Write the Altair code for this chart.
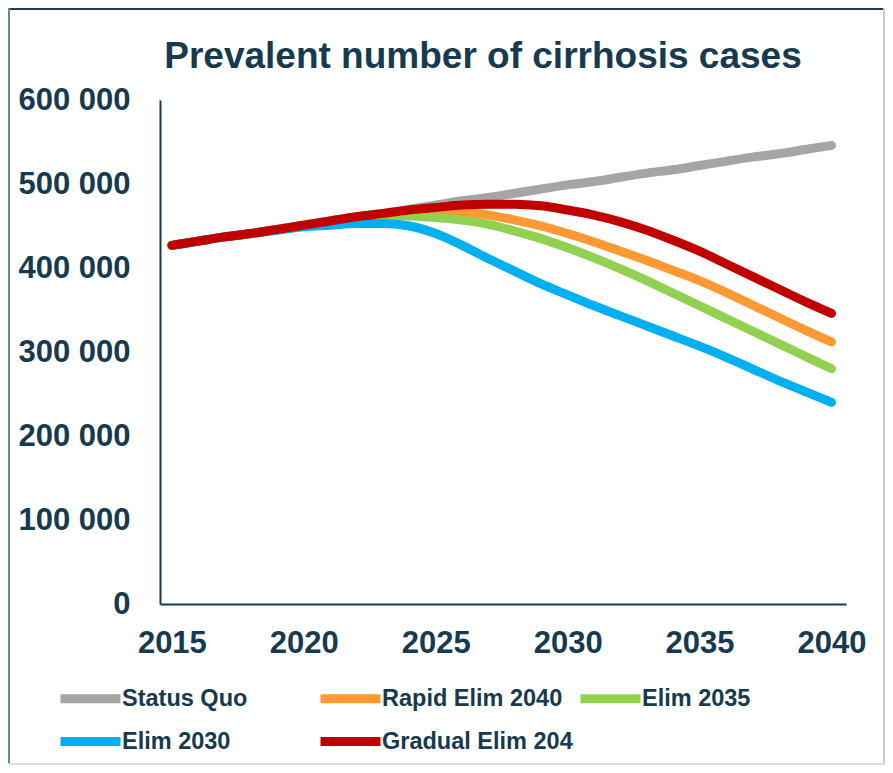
import altair as alt
import pandas as pd

title_text = "Prevalent number of cirrhosis cases"

years = list(range(2015, 2041))

series_names = ["Status Quo", "Rapid Elim 2040", "Elim 2035", "Elim 2030", "Gradual Elim 204"]
series_colors = ["#A5A5A5", "#FF9933", "#92D050", "#00B0F0", "#C00000"]
# legend fills column-major: this order gives rows [SQ, Rapid, E2035] / [E2030, Gradual]
legend_order = ["Status Quo", "Elim 2030", "Rapid Elim 2040", "Gradual Elim 204", "Elim 2035"]

status_quo = [427, 432, 437, 441, 446, 451, 456, 461, 465, 470, 475, 480, 484, 489, 494,
              499, 503, 508, 513, 517, 522, 527, 532, 536, 541, 546]
rapid_2040 = [427, 432, 437, 441, 446, 451, 456, 460, 464, 466, 467, 466, 463, 457, 450,
              441, 431, 420, 409, 397, 385, 371, 356, 341, 326, 312]
elim_2035 = [427, 432, 437, 441, 446, 451, 456, 460, 462, 462, 460, 457, 452, 444, 435,
             424, 412, 399, 385, 370, 355, 340, 325, 310, 295, 280]
elim_2030 = [427, 432, 437, 441, 445, 449, 451, 453, 453, 450, 441, 427, 411, 396, 381,
             368, 355, 343, 331, 319, 307, 294, 280, 266, 253, 240]
gradual_2040 = [427, 432, 437, 441, 446, 451, 456, 461, 465, 469, 472, 475, 476, 476, 474,
                469, 463, 455, 445, 433, 420, 405, 390, 375, 360, 346]

values = [status_quo, rapid_2040, elim_2035, elim_2030, gradual_2040]

rows = []
for name, vals in zip(series_names, values):
    for y, v in zip(years, vals):
        rows.append({"year": y, "value": v * 1000, "series": name})
df = pd.DataFrame(rows)

color_map = dict(zip(series_names, series_colors))

TEXT = "#173A4E"

x_enc = alt.X("year:Q",
              scale=alt.Scale(domain=[2014.55, 2040.55], nice=False, zero=False),
              axis=alt.Axis(values=[2015, 2020, 2025, 2030, 2035, 2040], format="d",
                            title=None, ticks=False, grid=False, domainColor=TEXT,
                            domainWidth=2, labelFontSize=31, labelFontWeight="bold",
                            labelColor=TEXT, labelFont="Liberation Sans", labelPadding=24,
                            labelFlush=False))
y_enc = alt.Y("value:Q",
              scale=alt.Scale(domain=[0, 600000], nice=False),
              axis=alt.Axis(values=[0, 100000, 200000, 300000, 400000, 500000, 600000],
                            labelExpr="datum.value == 0 ? '0' : format(datum.value / 1000, 'd') + ' 000'",
                            title=None, ticks=False, grid=False, domainColor=TEXT,
                            domainWidth=2, labelFontSize=31, labelFontWeight="bold",
                            labelColor=TEXT, labelFont="Liberation Sans", labelPadding=30))
color_enc = alt.Color("series:N",
                      scale=alt.Scale(domain=legend_order,
                                      range=[color_map[n] for n in legend_order]),
                      legend=alt.Legend(title=None, orient="none", legendX=-104, legendY=579,
                                        columns=3, gridAlign="all", columnPadding=-11,
                                        rowPadding=5, symbolType="M-2,0L2,0",
                                        symbolSize=900, symbolStrokeWidth=9,
                                        symbolOffset=15, symbolFillColor="transparent",
                                        labelFontSize=23.5, labelFontWeight="bold",
                                        labelColor=TEXT, labelFont="Liberation Sans",
                                        labelOffset=12, labelLimit=400))

layers = []
for name in series_names:
    layers.append(
        alt.Chart(df).transform_filter(alt.datum.series == name)
        .mark_line(strokeWidth=9, strokeCap="round", interpolate="monotone")
        .encode(x=x_enc, y=y_enc, color=color_enc)
    )

title_layer = alt.Chart(alt.Data(values=[{"t": title_text}])).mark_text(
    font="Liberation Sans", fontSize=37, fontWeight="bold", color=TEXT,
    align="center", baseline="alphabetic").encode(
    text="t:N", x=alt.value(323), y=alt.value(-32))

frame_top = alt.Chart(df).mark_rule(color="#1F3F52", strokeWidth=2).encode(
    x=alt.value(-152), x2=alt.value(725), y=alt.value(-91))
frame_left = alt.Chart(df).mark_rule(color="#6B8593", strokeWidth=1.5).encode(
    x=alt.value(-151.5), y=alt.value(-92), y2=alt.value(665))
frame_right = alt.Chart(df).mark_rule(color="#C8CDD2", strokeWidth=1.5).encode(
    x=alt.value(724), y=alt.value(-92), y2=alt.value(665))
frame_bottom = alt.Chart(df).mark_rule(color="#DADDE0", strokeWidth=1.5).encode(
    x=alt.value(-152), x2=alt.value(725), y=alt.value(664.5))

chart = alt.layer(frame_top, frame_left, frame_right, frame_bottom, title_layer,
                  *layers).properties(
    width=686, height=504,
    padding={"left": 152, "top": 92, "right": 39, "bottom": 161},
    autosize=alt.AutoSizeParams(type="none"),
).configure(background="white").configure_view(stroke=None)

chart.save("out.html", embed_options={"renderer": "svg", "actions": False})
